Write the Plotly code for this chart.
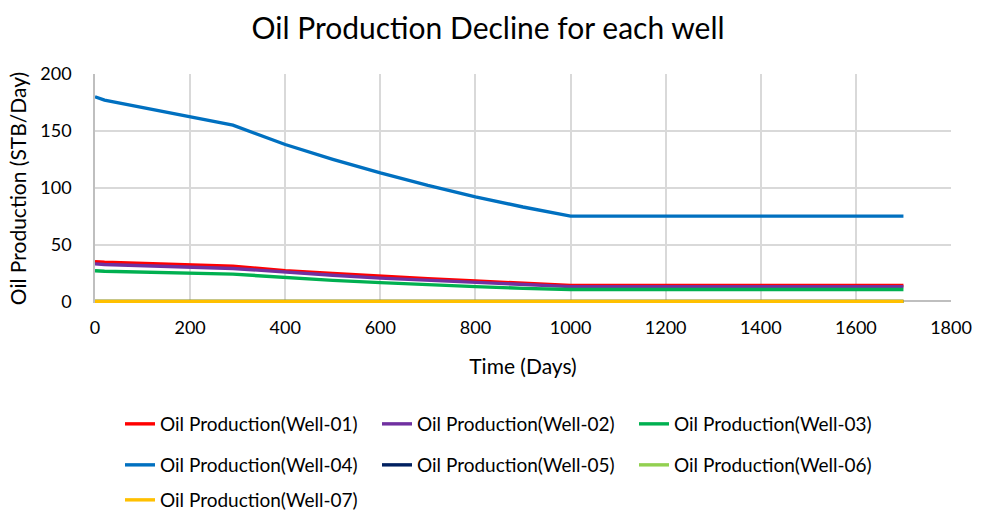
import plotly.graph_objects as go

# Production history (days on production vs. oil rate, STB/Day)
days = [0, 20, 290, 400, 500, 600, 700, 800, 900, 1000, 1100, 1200, 1300, 1400, 1500, 1600, 1700]

well_01 = [35, 34.5, 31, 27, 24.5, 22, 20, 18, 16, 14, 14, 14, 14, 14, 14, 14, 14]
well_02 = [33, 32.5, 29, 25.5, 23, 20.5, 18.5, 16.5, 14.5, 13, 13, 13, 13, 13, 13, 13, 13]
well_03 = [27, 26.5, 24, 21, 18.5, 16.5, 14.5, 13, 11.5, 10.5, 10.5, 10.5, 10.5, 10.5, 10.5, 10.5, 10.5]
well_04 = [180, 177, 155, 138, 125, 113, 102, 92, 83, 75, 75, 75, 75, 75, 75, 75, 75]
well_05 = [0] * len(days)
well_06 = [0] * len(days)
well_07 = [0] * len(days)

series_names = [
    "Oil Production(Well-01)", "Oil Production(Well-02)", "Oil Production(Well-03)",
    "Oil Production(Well-04)", "Oil Production(Well-05)", "Oil Production(Well-06)",
    "Oil Production(Well-07)",
]
series_values = [well_01, well_02, well_03, well_04, well_05, well_06, well_07]
series_colors = ["#FF0000", "#7030A0", "#00B050", "#0070C0", "#002060", "#92D050", "#FFC000"]
legend_rows = ["legend", "legend", "legend", "legend2", "legend2", "legend2", "legend3"]

FONT = "Lato"
W, H = 986, 512

fig = go.Figure()
for name, vals, color, lg in zip(series_names, series_values, series_colors, legend_rows):
    fig.add_trace(go.Scatter(
        x=days, y=vals, name=name, mode="lines",
        line=dict(color=color, width=3.4),
        legend=lg,
    ))

legend_common = dict(
    orientation="h", xanchor="left", yanchor="middle",
    xref="container", yref="container",
    font=dict(family=FONT, size=19, color="#000000"),
    entrywidth=212, entrywidthmode="pixels",
    bgcolor="rgba(0,0,0,0)", itemwidth=30,
)
legend_x = 120 / W

fig.update_layout(
    width=W, height=H,
    margin=dict(l=95, r=35, t=74, b=209),
    paper_bgcolor="white", plot_bgcolor="white",
    font=dict(family=FONT, size=18, color="#000000"),
    title=dict(text="Oil Production Decline for each well", x=0.495, xanchor="center",
               y=1 - 28 / H, yanchor="middle", font=dict(family=FONT, size=30, color="#000000")),
    xaxis=dict(
        range=[0, 1800], dtick=200, tick0=0,
        showgrid=True, gridcolor="#d9d9d9", gridwidth=1.5,
        showline=False,
        zeroline=False, ticks="", ticklabelstandoff=12,
        tickfont=dict(family=FONT, size=18),
        title=dict(text="Time (Days)", font=dict(family=FONT, size=21), standoff=22),
    ),
    yaxis=dict(
        range=[-1.4, 200], dtick=50, tick0=0,
        showgrid=True, gridcolor="#d9d9d9", gridwidth=1.5,
        showline=True, linecolor="#bfbfbf", linewidth=1.5,
        zeroline=True, zerolinecolor="#bfbfbf", zerolinewidth=1.5,
        ticks="", ticklabelstandoff=18,
        tickfont=dict(family=FONT, size=18),
        title=dict(text="Oil Production (STB/Day)", font=dict(family=FONT, size=21), standoff=8),
    ),
    legend=dict(x=legend_x, y=1 - 424 / H, **legend_common),
    legend2=dict(x=legend_x, y=1 - 465 / H, **legend_common),
    legend3=dict(x=legend_x, y=1 - 500 / H, **legend_common),
)

fig.write_html("out.html")
